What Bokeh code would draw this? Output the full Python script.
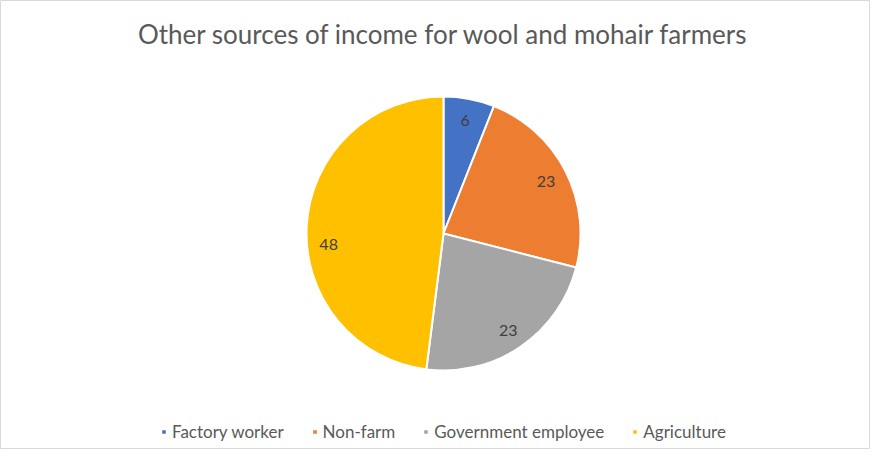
import math
from bokeh.plotting import figure
from bokeh.models import ColumnDataSource, Range1d, Legend, LegendItem
from bokeh.core.properties import value
from bokeh.embed import file_html
from bokeh.resources import INLINE

title_text = "Other sources of income for wool and mohair farmers"
categories = ["Factory worker", "Non-farm", "Government employee", "Agriculture"]
values = [6, 23, 23, 48]
colors = ["#4472C4", "#ED7D31", "#A5A5A5", "#FFC000"]

W, H = 870, 449
total = sum(values)
cx, cy, R = 443, 216, 137  # layout (pixels within frame)
label_dy = [0, 0, 2, 18]    # layout nudges of the data labels (screen px)

starts, ends, lx, ly = [], [], [], []
cum = 0
for v in values:
    a0 = math.pi / 2 - 2 * math.pi * cum / total
    cum += v
    a1 = math.pi / 2 - 2 * math.pi * cum / total
    starts.append(a0)
    ends.append(a1)
    mid = (a0 + a1) / 2
    lx.append(cx + 0.84 * R * math.cos(mid))
    ly.append(cy + 0.84 * R * math.sin(mid))

src = ColumnDataSource(dict(cat=categories, val=values, color=colors,
                            start=starts, end=ends, dy=label_dy,
                            lx=lx, ly=ly, lab=[str(v) for v in values]))

p = figure(width=W, height=H, output_backend="svg", toolbar_location=None,
           x_range=Range1d(0, W), y_range=Range1d(0, H), min_border=0,
           tools="")
p.axis.visible = False
p.grid.visible = False
p.outline_line_color = "#D9D9D9"
p.background_fill_color = "white"
p.border_fill_color = "white"

r = p.wedge(x=cx, y=cy, radius=R, start_angle="start", end_angle="end",
            direction="clock", fill_color="color", line_color="white",
            line_width=2, source=src)

p.text(x="lx", y="ly", text="lab", source=src, y_offset="dy",
       text_align="center", text_baseline="middle", text_color="#404040",
       text_font_size="16px", text_font=value("Lato"))

p.text(x=[cx], y=[H - 33], text=[title_text], text_align="center",
       text_baseline="middle", text_color="#595959", text_font_size="26px",
       text_font=value("Lato"))

items = [LegendItem(label=c, renderers=[r], index=i) for i, c in enumerate(categories)]
leg = Legend(items=items, orientation="horizontal", location=(160, 7),
             glyph_width=7, glyph_height=7, label_standoff=5, spacing=27,
             label_text_font="Lato", label_text_font_size="17px",
             label_text_color="#595959", border_line_color=None,
             background_fill_alpha=0, padding=0, margin=0)
p.add_layout(leg, "center")

open("out.html", "w").write(file_html(p, INLINE))
